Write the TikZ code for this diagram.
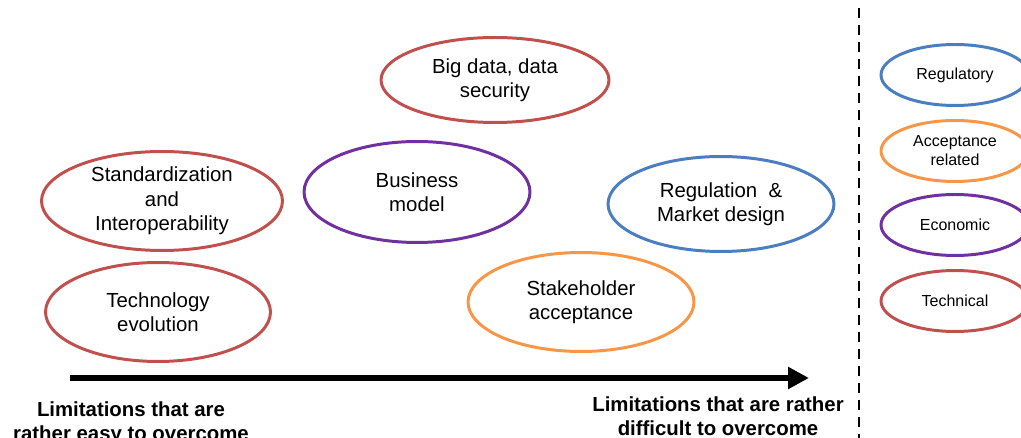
\documentclass[tikz,border=0pt]{standalone}
\usepackage{fontspec}
\setmainfont{Liberation Sans}
\usetikzlibrary{shapes.geometric,arrows.meta}

\definecolor{techred}{RGB}{192,80,77}
\definecolor{econpurple}{RGB}{112,48,160}
\definecolor{regblue}{RGB}{74,126,193}
\definecolor{accorange}{RGB}{247,150,70}

\tikzset{
  limit/.style={ellipse,draw,line width=1.7pt,inner sep=0pt,align=center,
    minimum width=4.52cm,minimum height=1.98cm,
    font=\fontsize{11.6}{13.9}\selectfont},
  legend/.style={ellipse,draw,line width=1.7pt,inner sep=0pt,align=center,
    minimum width=2.96cm,minimum height=1.22cm,
    font=\fontsize{9.1}{10.9}\selectfont},
  caption/.style={align=center,font=\bfseries\fontsize{11.6}{13.6}\selectfont}
}

\begin{document}
\begin{tikzpicture}[x=0.02cm,y=-0.02cm]
        \useasboundingbox (0,0) rectangle (1021,438);
        \clip (0,0) rectangle (1021,438);
        % limitations
        \node[limit,techred,text=black,minimum width=4.56cm,minimum height=1.7cm] (bigdata) at (495,80) {Big data, data\\security};
        \node[limit,techred,text=black,minimum width=4.82cm] (standard) at (162,201) {Standardization\\and\\Interoperability};
        \node[limit,econpurple,text=black,minimum height=2.02cm] (business) at (417,192) {Business\\model};
        \node[limit,regblue,text=black,minimum height=1.9cm] (regulation) at (721,204) {Regulation \ \&\\Market design};
        \node[limit,techred,text=black,minimum width=4.5cm] (techevo) at (158,312) {Technology\\evolution};
        \node[limit,accorange,text=black] (stakeholder) at (581,302) {Stakeholder\\acceptance};
        % axis
        \coordinate (easy) at (70,378);
        \coordinate (hard) at (809,378);
        \draw[line width=3.4pt,-{Triangle[length=0.42cm,width=0.42cm]}] (easy) -- (hard);
        \node[caption,anchor=north] (easytext) at (131,396) {Limitations that are\\rather easy to overcome};
        \node[caption,anchor=north] (hardtext) at (718,391) {Limitations that are rather\\difficult to overcome};
        % legend
        \coordinate (sep top) at (859,8);
        \coordinate (sep bottom) at (859,440);
        \draw[line width=1.6pt,dash pattern=on 5.7pt off 4pt] (sep top) -- (sep bottom);
        \node[legend,regblue,text=black] (regulatory) at (955,75) {Regulatory};
        \node[legend,accorange,text=black] (acceptance) at (955,151) {Acceptance\\related};
        \node[legend,econpurple,text=black] (economic) at (955,225) {Economic};
        \node[legend,techred,text=black] (technical) at (955,301) {Technical};
      \end{tikzpicture}
\end{document}
